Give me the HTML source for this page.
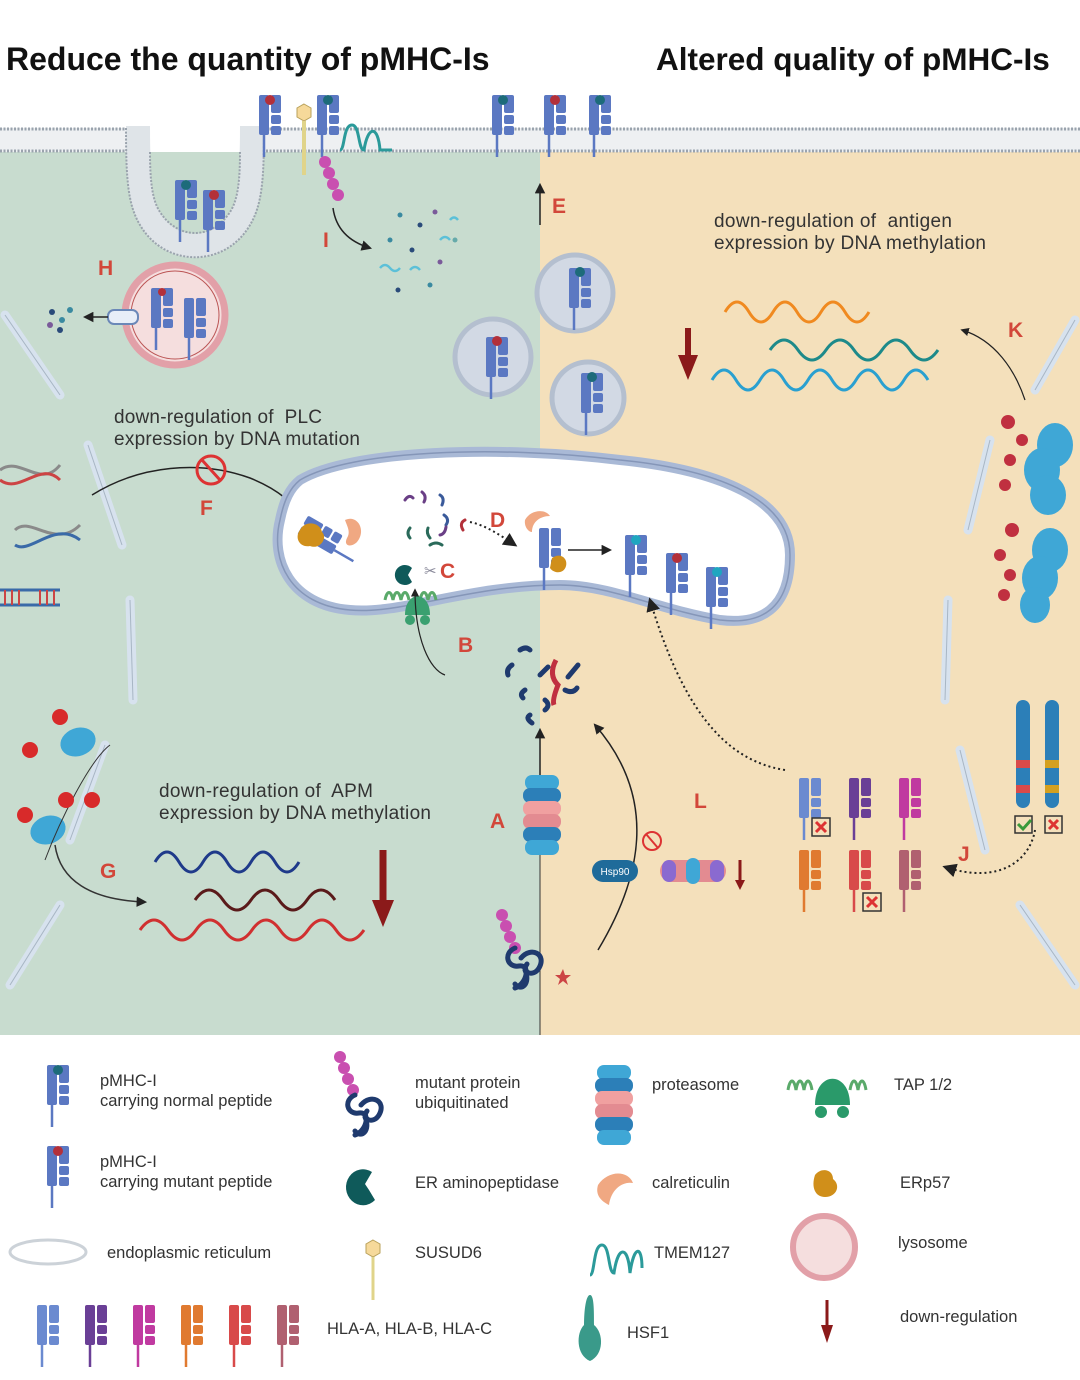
<!DOCTYPE html>
<html><head><meta charset="utf-8"><style>
html,body{margin:0;padding:0;background:#fff;}
svg{display:block;font-family:"Liberation Sans",sans-serif;}
.t{font-size:19px;fill:#333;white-space:pre;}
.L{font-size:21px;fill:#d2473a;font-weight:bold;}
.g{font-size:16.5px;fill:#333;}
</style></head><body>
<svg width="1080" height="1380" viewBox="0 0 1080 1380" xmlns="http://www.w3.org/2000/svg">
<defs>
<g id="m">
<rect x="-11" y="0" width="10" height="40" rx="2" fill="currentColor"/>
<rect x="1" y="0" width="10" height="18" rx="2" fill="currentColor"/>
<rect x="1" y="20" width="10" height="9" rx="2" fill="currentColor"/>
<rect x="1" y="31" width="10" height="9" rx="2" fill="currentColor"/>
<line x1="-6" y1="40" x2="-6" y2="62" stroke="currentColor" stroke-width="2.5"/>
</g>
<g id="ub">
<circle cx="0" cy="0" r="6" fill="#c94fb0"/><circle cx="4" cy="11" r="6" fill="#c94fb0"/><circle cx="8" cy="22" r="6" fill="#c94fb0"/><circle cx="13" cy="33" r="6" fill="#c94fb0"/>
</g>
<g id="prot" fill="none" stroke="#1f3a6e" stroke-width="5" stroke-linecap="round">
<path d="M0 0 c-12 5 -8 20 4 18 c12 -2 8 18 -4 22 M6 10 c10 -12 26 -4 18 10 c-6 10 -18 4 -12 -4 M10 22 c6 14 -4 22 -10 14"/>
</g>
<g id="prsm">
<rect x="-17" y="0" width="34" height="15" rx="7" fill="#3fa7d6"/>
<rect x="-19" y="13" width="38" height="15" rx="7" fill="#2c7fb8"/>
<rect x="-19" y="26" width="38" height="15" rx="7" fill="#f0a0a0"/>
<rect x="-19" y="39" width="38" height="15" rx="7" fill="#e38b91"/>
<rect x="-19" y="52" width="38" height="15" rx="7" fill="#2c7fb8"/>
<rect x="-17" y="65" width="34" height="15" rx="7" fill="#3fa7d6"/>
</g>
<marker id="ar" viewBox="0 0 10 10" refX="8" refY="5" markerWidth="7" markerHeight="7" orient="auto"><path d="M0 0L10 5L0 10z" fill="#222"/></marker>
</defs>

<rect x="0" y="140" width="540" height="895" fill="#c8dccf"/>
<rect x="540" y="140" width="540" height="895" fill="#f4e0bb"/>
<rect x="0" y="128" width="1080" height="24" fill="#eef0f2"/>
<line x1="0" y1="129" x2="1080" y2="129" stroke="#9aa3ad" stroke-width="3" stroke-dasharray="2 1.5"/>
<line x1="0" y1="151" x2="1080" y2="151" stroke="#9aa3ad" stroke-width="3" stroke-dasharray="2 1.5"/>
<!-- invagination -->
<rect x="128" y="126" width="134" height="28" fill="#fff"/>
<path d="M138 126 C138 175 140 200 150 218 C170 255 220 255 240 218 C250 200 252 175 252 126" fill="none" stroke="#dfe4e8" stroke-width="24"/>
<path d="M126 128 C126 180 128 205 140 225 C165 268 225 268 250 225 C262 205 264 180 264 128" fill="none" stroke="#9aa3ad" stroke-width="2" stroke-dasharray="2 1.5"/>
<path d="M150 152 C150 180 152 200 160 212 C178 240 212 240 230 212 C238 200 240 180 240 152" fill="#c8dccf" stroke="#9aa3ad" stroke-width="2" stroke-dasharray="2 1.5"/>

<text x="6" y="70" font-size="32" font-weight="bold" fill="#111">Reduce the quantity of pMHC-Is</text>
<text x="656" y="70" font-size="31.5" font-weight="bold" fill="#111">Altered quality of pMHC-Is</text>

<g color="#5b78c2">
<use href="#m" x="270" y="95"/><use href="#m" x="328" y="95"/>
<use href="#m" x="503" y="95"/><use href="#m" x="555" y="95"/><use href="#m" x="600" y="95"/>
<use href="#m" x="186" y="180"/><use href="#m" x="214" y="190"/>
</g>
<circle cx="270" cy="100" r="5" fill="#b3303a"/><circle cx="328" cy="100" r="5" fill="#1d6b7a"/>
<circle cx="503" cy="100" r="5" fill="#1d6b7a"/><circle cx="555" cy="100" r="5" fill="#b3303a"/><circle cx="600" cy="100" r="5" fill="#1d6b7a"/>
<circle cx="186" cy="185" r="5" fill="#1d6b7a"/><circle cx="214" cy="195" r="5" fill="#b3303a"/>
<polygon points="304,104 311,108 311,117 304,121 297,117 297,108" fill="#f6d99a" stroke="#b9a15a"/>
<line x1="304" y1="121" x2="304" y2="175" stroke="#e0d48a" stroke-width="4"/>
<path d="M340 150 C345 150 343 125 352 125 C360 125 358 150 364 150 C368 125 378 125 380 150 L392 150" fill="none" stroke="#2b9a9a" stroke-width="3"/>
<use href="#ub" x="325" y="162"/>
<path d="M333 208 C336 230 350 242 370 248" fill="none" stroke="#222" stroke-width="1.5" marker-end="url(#ar)"/>
<text x="323" y="247" class="L">I</text>
<g fill="#3a8aa0"><circle cx="400" cy="215" r="2.5"/><circle cx="420" cy="225" r="2.5" fill="#2a4b7a"/><circle cx="435" cy="212" r="2.5" fill="#7a5a9a"/><circle cx="390" cy="240" r="2.5"/><circle cx="412" cy="250" r="2.5" fill="#2a4b7a"/><circle cx="440" cy="262" r="2.5" fill="#7a5a9a"/><circle cx="398" cy="290" r="2.5" fill="#2a4b7a"/><circle cx="430" cy="285" r="2.5"/><circle cx="455" cy="240" r="2.5" fill="#6aa"/></g>
<path d="M380 268 q5 -6 10 0 q5 6 10 0 M440 240 q5 -6 10 0 M410 270 q5 -6 10 0 M450 220 q4 -5 8 0" stroke="#5cc0d8" stroke-width="2.5" fill="none"/>

<line x1="540" y1="225" x2="540" y2="185" stroke="#222" stroke-width="1.5" marker-end="url(#ar)"/>
<text x="552" y="213" class="L">E</text>
<g fill="#d2d9e4" stroke="#b4bfcf" stroke-width="5">
<circle cx="575" cy="293" r="38"/><circle cx="493" cy="357" r="38"/><circle cx="588" cy="398" r="36"/>
</g>
<g color="#5b78c2"><use href="#m" x="580" y="268"/><use href="#m" x="497" y="337"/><use href="#m" x="592" y="373"/></g>
<circle cx="580" cy="272" r="5" fill="#1d6b7a"/><circle cx="497" cy="341" r="5" fill="#b3303a"/><circle cx="592" cy="377" r="5" fill="#1d6b7a"/>

<circle cx="175" cy="315" r="50" fill="#f5dede" stroke="#e2a0a8" stroke-width="7"/>
<circle cx="175" cy="315" r="44" fill="none" stroke="#b55" stroke-width="1"/>
<g color="#5b78c2"><use href="#m" x="162" y="288"/><use href="#m" x="195" y="298"/></g>
<circle cx="162" cy="292" r="4" fill="#b3303a"/>
<rect x="108" y="310" width="30" height="14" rx="6" fill="#e8eef8" stroke="#6b88b8" stroke-width="2"/>
<line x1="108" y1="317" x2="85" y2="317" stroke="#222" stroke-width="1.5" marker-end="url(#ar)"/>
<text x="98" y="275" class="L">H</text>
<g><circle cx="52" cy="312" r="3" fill="#2a4b7a"/><circle cx="62" cy="320" r="3" fill="#3a8aa0"/><circle cx="50" cy="325" r="3" fill="#7a5a9a"/><circle cx="70" cy="310" r="3" fill="#3a8aa0"/><circle cx="60" cy="330" r="3" fill="#2a4b7a"/></g>

<g stroke="#d7e2ee" stroke-width="9" stroke-linecap="round" fill="none">
<path d="M5 315 L60 395"/><path d="M88 445 L122 545"/><path d="M130 600 L133 700"/><path d="M105 745 L70 840"/><path d="M60 905 L10 985"/>
<path d="M1075 320 L1035 390"/><path d="M990 440 L968 530"/><path d="M948 600 L945 700"/><path d="M960 750 L985 850"/><path d="M1020 905 L1075 985"/>
</g>
<g stroke="#a8b6c4" stroke-width="1" fill="none">
<path d="M5 315 L60 395"/><path d="M88 445 L122 545"/><path d="M130 600 L133 700"/><path d="M105 745 L70 840"/><path d="M60 905 L10 985"/>
<path d="M1075 320 L1035 390"/><path d="M990 440 L968 530"/><path d="M948 600 L945 700"/><path d="M960 750 L985 850"/><path d="M1020 905 L1075 985"/>
</g>

<text x="114" y="423" class="t" textLength="208">down-regulation of  PLC</text>
<text x="114" y="445" class="t" textLength="246">expression by DNA mutation</text>
<text x="714" y="227" class="t" textLength="238">down-regulation of  antigen</text>
<text x="714" y="249" class="t" textLength="272">expression by DNA methylation</text>
<text x="159" y="797" class="t" textLength="214">down-regulation of  APM</text>
<text x="159" y="819" class="t" textLength="272">expression by DNA methylation</text>

<g stroke-width="3" fill="none">
<path d="M0 470 C20 455 40 490 60 465" stroke="#8a8a8a"/><path d="M0 480 C20 495 40 460 60 480" stroke="#c44"/>
<path d="M15 530 C30 515 55 550 80 525" stroke="#8a8a8a"/><path d="M15 545 C30 555 55 520 80 540" stroke="#3a6aa8"/>
<path d="M0 590 L60 590 M0 605 L60 605" stroke="#3a6aa8"/>
</g>
<g stroke="#c44" stroke-width="2"><path d="M5 590v15M12 590v15M19 590v15M40 590v15M47 590v15M54 590v15"/></g>
<path d="M92 495 C140 465 200 460 250 478 C280 490 295 505 305 520" fill="none" stroke="#222" stroke-width="1.5" marker-end="url(#ar)"/>
<circle cx="211" cy="470" r="14" fill="none" stroke="#d33" stroke-width="3"/><line x1="202" y1="460" x2="220" y2="480" stroke="#d33" stroke-width="3"/>
<text x="200" y="515" class="L">F</text>

<path d="M300 480 C350 450 500 445 620 460 C720 470 790 500 790 555 C790 610 760 625 720 620 C660 610 610 585 560 585 C470 585 400 615 350 610 C290 605 270 560 280 520 C284 500 290 488 300 480Z" fill="#fff" stroke="#a9b9d6" stroke-width="10"/>
<path d="M300 480 C350 450 500 445 620 460 C720 470 790 500 790 555 C790 610 760 625 720 620 C660 610 610 585 560 585 C470 585 400 615 350 610 C290 605 270 560 280 520 C284 500 290 488 300 480Z" fill="none" stroke="#8596b8" stroke-width="1.5"/>
<g transform="translate(320,535) rotate(-60)" color="#5b78c2"><use href="#m" x="0" y="-20"/></g>
<path d="M300 530 c5 -10 20 -8 22 2 c6 6 -2 18 -12 14 c-10 2 -16 -8 -10 -16z" fill="#d08f1a"/>
<path d="M345 520 c12 -6 22 10 12 22 c-6 6 -14 4 -10 -4 c4 -6 0 -12 -2 -18z" fill="#f0a882"/>
<g stroke-width="3" fill="none" stroke-linecap="round">
<path d="M405 500 q4 -6 8 -2" stroke="#6a3f86"/><path d="M422 492 q5 4 2 10" stroke="#6a3f86"/><path d="M440 495 q5 3 2 10" stroke="#3a5a9a"/>
<path d="M410 528 q-4 5 0 10" stroke="#2a6a5a"/><path d="M428 528 q-2 5 2 10" stroke="#2a6a5a"/><path d="M444 515 q6 4 2 10" stroke="#3a5a9a"/><path d="M440 535 q5 -1 6 -8" stroke="#6a3f86"/><path d="M465 520 q-6 3 -2 10" stroke="#b3303a"/><path d="M430 545 q6 -4 12 0" stroke="#2a6a5a"/>
</g>
<path d="M470 522 C485 525 500 535 515 545" fill="none" stroke="#222" stroke-width="2" stroke-dasharray="2 3" marker-end="url(#ar)"/>
<text x="490" y="527" class="L">D</text>
<g color="#5b78c2"><use href="#m" x="550" y="528"/></g>
<path d="M525 520 c5 -10 20 -12 25 -4 c-10 0 -18 6 -18 16 c-4 0 -8 -6 -7 -12z" fill="#f0a882"/>
<path d="M552 558 c8 -6 16 0 14 8 c-2 8 -12 8 -16 2z" fill="#d08f1a"/>
<line x1="568" y1="550" x2="610" y2="550" stroke="#222" stroke-width="1.5" marker-end="url(#ar)"/>
<g color="#5b78c2"><use href="#m" x="636" y="535"/><use href="#m" x="677" y="553"/><use href="#m" x="717" y="567"/></g>
<circle cx="636" cy="540" r="5" fill="#1fa6c0"/><circle cx="677" cy="558" r="5" fill="#b3303a"/><circle cx="717" cy="572" r="5" fill="#1fa6c0"/>
<path d="M385 600 c2 -10 6 -10 8 0 c2 -10 6 -10 8 0 c2 -10 6 -10 8 0 M420 600 c2 -10 6 -10 8 0 c2 -10 6 -10 8 0" stroke="#5aaa6a" stroke-width="3" fill="none"/>
<path d="M405 615 c0 -25 25 -25 25 0z" fill="#3aa070"/><circle cx="410" cy="620" r="5" fill="#3aa070"/><circle cx="425" cy="620" r="5" fill="#3aa070"/>
<path d="M412 568 a10 10 0 1 0 0 14 l-4 -7z" fill="#0f5a5a"/>
<text x="424" y="576" font-size="15" fill="#889">✂</text>
<text x="440" y="578" class="L">C</text>
<path d="M445 675 C430 670 415 640 415 590" fill="none" stroke="#222" stroke-width="1.2" marker-end="url(#ar)"/>
<text x="458" y="652" class="L">B</text>
<g stroke="#1f3a6e" stroke-width="5" fill="none" stroke-linecap="round">
<path d="M512 665 q-6 4 -4 10"/><path d="M520 650 q6 -4 10 0"/><path d="M525 690 q-6 4 -2 8"/><path d="M540 675 l8 -8"/><path d="M545 700 q6 5 0 10"/><path d="M530 715 q-5 3 2 8"/><path d="M578 665 l-10 12"/><path d="M565 690 q8 4 12 -2"/>
</g>
<path d="M556 660 q-8 15 2 25 q-6 15 -4 20" stroke="#c03040" stroke-width="5" fill="none"/>

<line x1="540" y1="775" x2="540" y2="730" stroke="#222" stroke-width="1.5" marker-end="url(#ar)"/>
<line x1="540" y1="1035" x2="540" y2="775" stroke="#333" stroke-width="1"/>
<use href="#prsm" x="542" y="775"/>
<text x="490" y="828" class="L">A</text>
<use href="#ub" x="502" y="915"/>
<use href="#prot" x="515" y="948"/>
<path d="M560 975 l3 -6 l2 6 l6 0 l-5 4 l2 6 l-5 -4 l-5 4 l2 -6 l-5 -4z" fill="#c44"/>
<path d="M598 950 C640 880 660 800 595 725" fill="none" stroke="#222" stroke-width="1.5" marker-end="url(#ar)"/>
<circle cx="652" cy="841" r="9" fill="none" stroke="#d33" stroke-width="2"/><line x1="646" y1="834" x2="658" y2="848" stroke="#d33" stroke-width="2"/>
<rect x="592" y="860" width="46" height="22" rx="11" fill="#1f6b9a"/>
<text x="615" y="875" font-size="10" fill="#fff" text-anchor="middle">Hsp90</text>
<g><rect x="660" y="860" width="66" height="22" rx="11" fill="#e38b91"/><rect x="662" y="860" width="14" height="22" rx="7" fill="#8a6ad0"/><rect x="686" y="858" width="14" height="26" rx="7" fill="#3fa7d6"/><rect x="710" y="860" width="14" height="22" rx="7" fill="#8a6ad0"/></g>
<path d="M740 860 L740 882" stroke="#8b1a1a" stroke-width="3"/><path d="M735 880 L740 890 L745 880z" fill="#8b1a1a"/>
<text x="694" y="808" class="L">L</text>

<path d="M785 770 C720 760 680 700 650 600" fill="none" stroke="#222" stroke-width="2" stroke-dasharray="2 3" marker-end="url(#ar)"/>
<g><use href="#m" x="810" y="778" color="#6b8ad0"/><use href="#m" x="860" y="778" color="#6a3f96"/><use href="#m" x="910" y="778" color="#c03aa0"/>
<use href="#m" x="810" y="850" color="#e07a30"/><use href="#m" x="860" y="850" color="#d84a4a"/><use href="#m" x="910" y="850" color="#b06070"/></g>
<g fill="#f4e0bb" stroke="#333" stroke-width="1.5"><rect x="812" y="818" width="18" height="18"/><rect x="863" y="893" width="18" height="18"/><rect x="1015" y="816" width="17" height="17"/><rect x="1045" y="816" width="17" height="17"/></g>
<g stroke="#d33" stroke-width="3"><path d="M816 822l10 10M826 822l-10 10M867 897l10 10M877 897l-10 10M1049 820l9 9M1058 820l-9 9"/></g>
<path d="M1018 824 l5 5 l8 -9" stroke="#3a9a3a" stroke-width="3" fill="none"/>
<text x="958" y="861" class="L">J</text>
<path d="M1035 830 C1030 860 1000 885 945 867" fill="none" stroke="#222" stroke-width="2" stroke-dasharray="2 3" marker-end="url(#ar)"/>
<g><rect x="1016" y="700" width="14" height="108" rx="7" fill="#2c7fb8"/><rect x="1045" y="700" width="14" height="108" rx="7" fill="#2c7fb8"/>
<rect x="1016" y="760" width="14" height="8" fill="#d84a4a"/><rect x="1016" y="785" width="14" height="8" fill="#d84a4a"/><rect x="1045" y="760" width="14" height="8" fill="#d4a020"/><rect x="1045" y="785" width="14" height="8" fill="#d4a020"/></g>

<text x="1008" y="337" class="L">K</text>
<path d="M1025 400 C1015 370 995 340 962 330" fill="none" stroke="#222" stroke-width="1.2" marker-end="url(#ar)"/>
<g stroke-width="3" fill="none">
<path d="M725 312 q12 -20 24 0 t24 0 t24 0 t24 0 t24 0 t24 0" stroke="#f08a20"/>
<path d="M770 350 q14 -20 28 0 t28 0 t28 0 t28 0 t28 0 t28 0" stroke="#1d8a8a"/>
<path d="M712 380 q12 -20 24 0 t24 0 t24 0 t24 0 t24 0 t24 0 t24 0 t24 0 t24 0" stroke="#2aa0d0"/>
</g>
<path d="M688 328 L688 360" stroke="#8b1a1a" stroke-width="6"/><path d="M678 355 L688 380 L698 355z" fill="#8b1a1a"/>
<g fill="#3fa7d6"><ellipse cx="1055" cy="445" rx="18" ry="22"/><ellipse cx="1042" cy="470" rx="18" ry="22"/><ellipse cx="1048" cy="495" rx="18" ry="20"/><ellipse cx="1050" cy="550" rx="18" ry="22"/><ellipse cx="1040" cy="578" rx="18" ry="22"/><ellipse cx="1035" cy="605" rx="15" ry="18"/></g>
<g fill="#c03040"><circle cx="1008" cy="422" r="7"/><circle cx="1022" cy="440" r="6"/><circle cx="1010" cy="460" r="6"/><circle cx="1005" cy="485" r="6"/><circle cx="1012" cy="530" r="7"/><circle cx="1000" cy="555" r="6"/><circle cx="1010" cy="575" r="6"/><circle cx="1004" cy="595" r="6"/></g>

<g fill="#3fa7d6"><ellipse cx="78" cy="742" rx="18" ry="14" transform="rotate(-20 78 742)"/><ellipse cx="48" cy="830" rx="18" ry="14" transform="rotate(-20 48 830)"/></g>
<path d="M45 860 C60 820 90 760 110 745" stroke="#333" fill="none"/>
<g fill="#d82a2a"><circle cx="60" cy="717" r="8"/><circle cx="30" cy="750" r="8"/><circle cx="66" cy="800" r="8"/><circle cx="92" cy="800" r="8"/><circle cx="25" cy="815" r="8"/></g>
<path d="M55 845 C60 880 90 900 145 902" fill="none" stroke="#333" stroke-width="1.5" marker-end="url(#ar)"/>
<text x="100" y="878" class="L">G</text>
<g stroke-width="3" fill="none">
<path d="M155 862 q12 -20 24 0 t24 0 t24 0 t24 0 t24 0 t24 0" stroke="#1f3a8a"/>
<path d="M195 900 q14 -20 28 0 t28 0 t28 0 t28 0 t28 0" stroke="#5a1a1a"/>
<path d="M140 930 q14 -20 28 0 t28 0 t28 0 t28 0 t28 0 t28 0 t28 0 t28 0" stroke="#d03030"/>
</g>
<path d="M383 850 L383 905" stroke="#8b1a1a" stroke-width="7"/><path d="M372 900 L383 927 L394 900z" fill="#8b1a1a"/>

<g color="#5b78c2"><use href="#m" x="58" y="1065"/><use href="#m" x="58" y="1146"/></g>
<circle cx="58" cy="1070" r="5" fill="#1d6b7a"/><circle cx="58" cy="1151" r="5" fill="#b3303a"/>
<text x="100" y="1086" class="g">pMHC-I</text><text x="100" y="1106" class="g">carrying normal peptide</text>
<text x="100" y="1167" class="g">pMHC-I</text><text x="100" y="1187" class="g">carrying mutant peptide</text>
<use href="#ub" x="340" y="1057"/>
<use href="#prot" x="355" y="1095"/>
<text x="415" y="1088" class="g">mutant protein</text><text x="415" y="1108" class="g">ubiquitinated</text>
<use href="#prsm" x="614" y="1065"/>
<text x="652" y="1090" class="g">proteasome</text>
<path d="M788 1090 c2 -12 6 -12 8 0 c2 -12 6 -12 8 0 c2 -12 6 -12 8 0 M850 1090 c2 -12 6 -12 8 0 c2 -12 6 -12 8 0" stroke="#5aaa6a" stroke-width="3" fill="none"/>
<path d="M815 1105 c0 -35 35 -35 35 0z" fill="#2a9a6a"/><circle cx="821" cy="1112" r="6" fill="#2a9a6a"/><circle cx="843" cy="1112" r="6" fill="#2a9a6a"/>
<text x="894" y="1090" class="g">TAP 1/2</text>
<path d="M372 1172 a17 18 0 1 0 3 28 l-6 -10 l-4 -6z" fill="#0f5a5a"/>
<text x="415" y="1188" class="g">ER aminopeptidase</text>
<path d="M598 1185 c10 -15 30 -15 35 -2 c-10 -2 -22 6 -24 22 c-8 -4 -14 -10 -11 -20z" fill="#f0a882"/>
<text x="652" y="1188" class="g">calreticulin</text>
<path d="M815 1175 c6 -8 18 -6 18 4 c8 6 4 18 -8 18 c-10 0 -14 -10 -10 -22z" fill="#d08f1a"/>
<text x="900" y="1188" class="g">ERp57</text>
<ellipse cx="48" cy="1252" rx="38" ry="12" fill="#fff" stroke="#ccd2d8" stroke-width="3"/>
<text x="107" y="1258" class="g">endoplasmic reticulum</text>
<polygon points="373,1240 380,1244 380,1253 373,1257 366,1253 366,1244" fill="#f6d99a" stroke="#b9a15a"/>
<line x1="373" y1="1257" x2="373" y2="1300" stroke="#e0d48a" stroke-width="3"/>
<text x="415" y="1258" class="g">SUSUD6</text>
<path d="M590 1275 c5 0 3 -30 12 -30 c8 0 6 28 12 28 c4 -28 14 -28 16 0 c4 -28 12 -28 12 -5" fill="none" stroke="#2b9a9a" stroke-width="3"/>
<text x="654" y="1258" class="g">TMEM127</text>
<circle cx="824" cy="1247" r="31" fill="#f5dede" stroke="#e2a0a8" stroke-width="6"/>
<text x="898" y="1248" class="g">lysosome</text>
<g><use href="#m" x="48" y="1305" color="#6b8ad0"/><use href="#m" x="96" y="1305" color="#6a3f96"/><use href="#m" x="144" y="1305" color="#c03aa0"/><use href="#m" x="192" y="1305" color="#e07a30"/><use href="#m" x="240" y="1305" color="#d84a4a"/><use href="#m" x="288" y="1305" color="#b06070"/></g>
<text x="327" y="1334" class="g">HLA-A, HLA-B, HLA-C</text>
<path d="M590 1295 c-4 0 -6 15 -6 30 c-8 8 -8 30 6 36 c14 -6 14 -28 4 -36 c0 -15 0 -30 -4 -30z" fill="#3a9a8a"/>
<text x="627" y="1338" class="g">HSF1</text>
<path d="M827 1300 L827 1330" stroke="#8b1a1a" stroke-width="3"/><path d="M821 1325 L827 1343 L833 1325z" fill="#8b1a1a"/>
<text x="900" y="1322" class="g">down-regulation</text>
</svg>
</body></html>
